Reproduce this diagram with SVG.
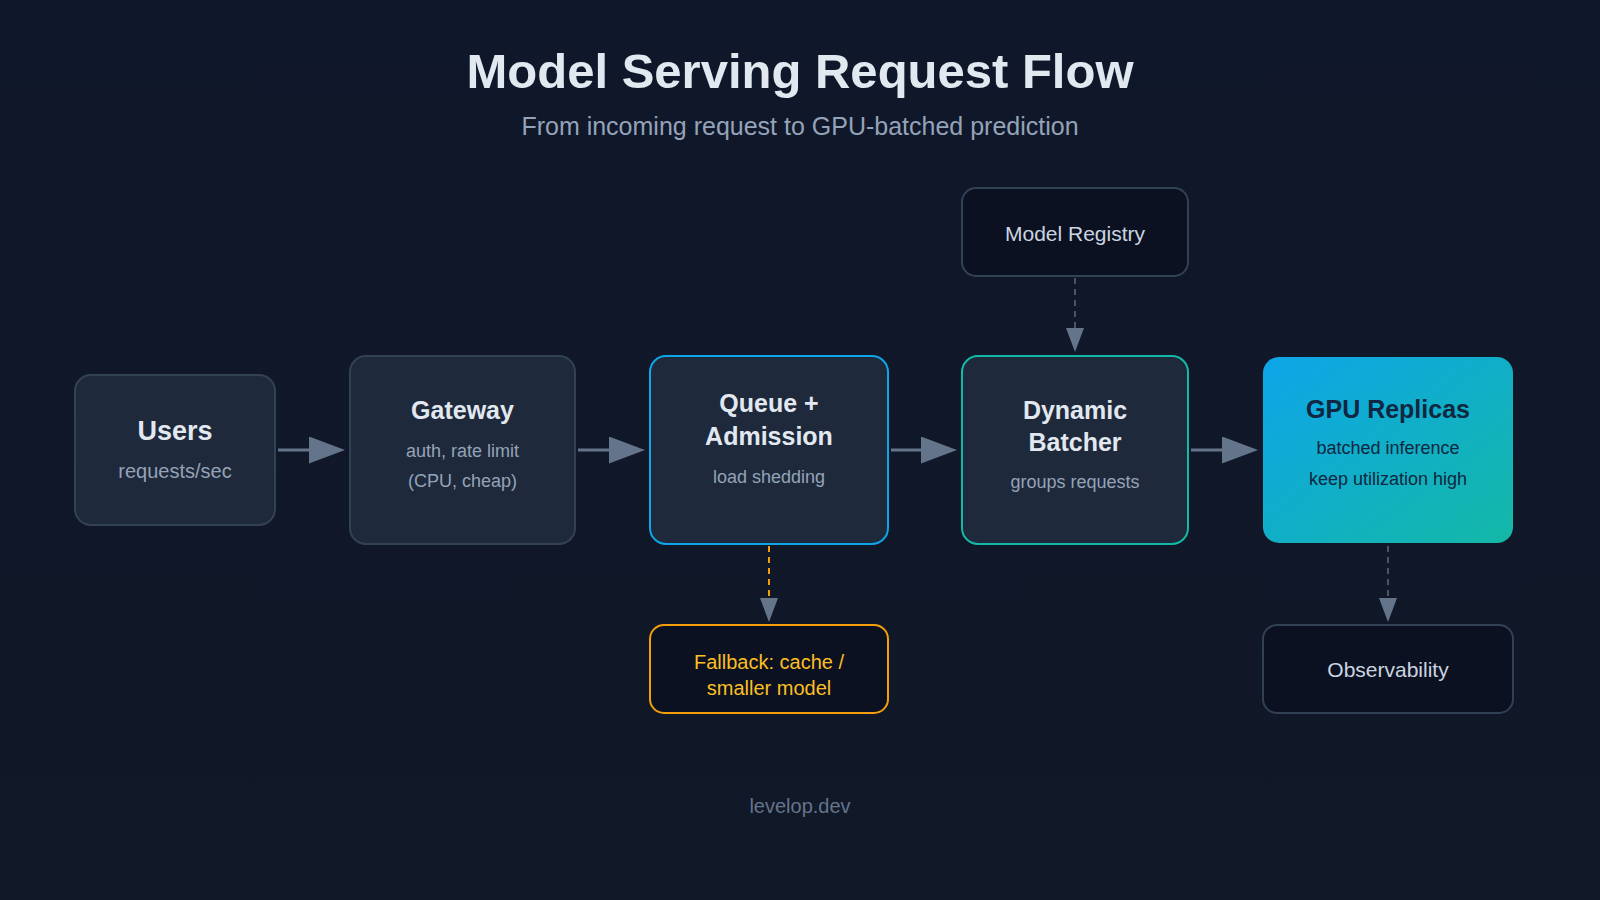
<svg xmlns="http://www.w3.org/2000/svg" width="1600" height="900" viewBox="0 0 1600 900">
  <defs>
    <linearGradient id="bg" x1="0" y1="0" x2="0" y2="1">
      <stop offset="0" stop-color="#0f172a"/>
      <stop offset="1" stop-color="#111827"/>
    </linearGradient>
    <linearGradient id="gpu" x1="0" y1="0" x2="1" y2="1">
      <stop offset="0" stop-color="#0ea5e9"/>
      <stop offset="1" stop-color="#14b8a6"/>
    </linearGradient>
    <marker id="arr" markerWidth="12" markerHeight="9" refX="0" refY="4.5" orient="auto" markerUnits="strokeWidth">
      <path d="M0,0 L12,4.5 L0,9 z" fill="#64748b"/>
    </marker>
    <style>
      text { font-family: "Liberation Sans", Arial, sans-serif; text-anchor: middle; }
      .box { fill: #1e293b; stroke: #334155; stroke-width: 2; }
      .side { fill: #0b1120; stroke: #334155; stroke-width: 2; }
      .t { fill: #e2e8f0; font-weight: bold; }
      .s { fill: #94a3b8; font-size: 18px; }
      .solid { stroke: #64748b; stroke-width: 3; fill: none; marker-end: url(#arr); }
      .dash { stroke: #475569; stroke-width: 2; stroke-dasharray: 6 5; fill: none; marker-end: url(#arr); }
    </style>
  </defs>
  <rect width="1600" height="900" fill="url(#bg)"/>

  <text x="800" y="88" font-size="49" font-weight="bold" fill="#e2e8f0">Model Serving Request Flow</text>
  <text x="800" y="135" font-size="25" fill="#94a3b8">From incoming request to GPU-batched prediction</text>

  <g id="connectors">
    <line class="solid" x1="278" y1="450" x2="309" y2="450"/>
    <line class="solid" x1="578" y1="450" x2="609" y2="450"/>
    <line class="solid" x1="891" y1="450" x2="921" y2="450"/>
    <line class="solid" x1="1191" y1="450" x2="1222" y2="450"/>
    <line class="dash" x1="1075" y1="278" x2="1075" y2="328"/>
    <line class="dash" x1="769" y1="546" x2="769" y2="598" style="stroke:#f59e0b"/>
    <line class="dash" x1="1388" y1="546" x2="1388" y2="598"/>
  </g>

  <g id="users">
    <rect class="box" x="75" y="375" width="200" height="150" rx="16"/>
    <text class="t" x="175" y="440" font-size="27">Users</text>
    <text class="s" x="175" y="478" style="font-size:20px">requests/sec</text>
  </g>

  <g id="gateway">
    <rect class="box" x="350" y="356" width="225" height="188" rx="16"/>
    <text class="t" x="462.5" y="419" font-size="25">Gateway</text>
    <text class="s" x="462.5" y="457">auth, rate limit</text>
    <text class="s" x="462.5" y="487">(CPU, cheap)</text>
  </g>

  <g id="queue">
    <rect class="box" x="650" y="356" width="238" height="188" rx="16" style="stroke:#0ea5e9"/>
    <text class="t" x="769" y="412" font-size="25">Queue +</text>
    <text class="t" x="769" y="445" font-size="25">Admission</text>
    <text class="s" x="769" y="483">load shedding</text>
  </g>

  <g id="batcher">
    <rect class="box" x="962" y="356" width="226" height="188" rx="16" style="stroke:#14b8a6"/>
    <text class="t" x="1075" y="419" font-size="25">Dynamic</text>
    <text class="t" x="1075" y="451" font-size="25">Batcher</text>
    <text class="s" x="1075" y="488">groups requests</text>
  </g>

  <g id="gpu-replicas">
    <rect x="1263" y="357" width="250" height="186" rx="16" fill="url(#gpu)"/>
    <text x="1388" y="418" font-size="25" font-weight="bold" fill="#0f2740">GPU Replicas</text>
    <text x="1388" y="454" font-size="18" fill="#0f2740">batched inference</text>
    <text x="1388" y="485" font-size="18" fill="#0f2740">keep utilization high</text>
  </g>

  <g id="registry">
    <rect class="side" x="962" y="188" width="226" height="88" rx="14"/>
    <text x="1075" y="241" font-size="21" fill="#cbd5e1">Model Registry</text>
  </g>

  <g id="fallback">
    <rect class="side" x="650" y="625" width="238" height="88" rx="14" style="stroke:#f59e0b"/>
    <text x="769" y="669" font-size="20" fill="#fbbf24">Fallback: cache /</text>
    <text x="769" y="695" font-size="20" fill="#fbbf24">smaller model</text>
  </g>

  <g id="observability">
    <rect class="side" x="1263" y="625" width="250" height="88" rx="14"/>
    <text x="1388" y="677" font-size="21" fill="#cbd5e1">Observability</text>
  </g>

  <text x="800" y="813" font-size="20" fill="#64748b">levelop.dev</text>
</svg>
